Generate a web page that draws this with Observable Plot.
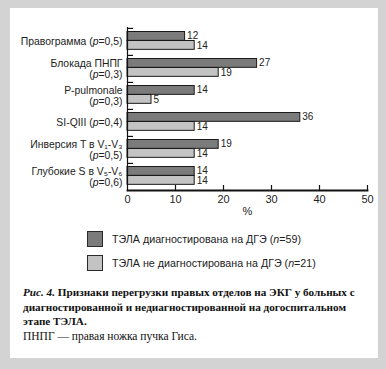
<!DOCTYPE html>
<html>
<head>
<meta charset="utf-8">
<script src="https://cdn.jsdelivr.net/npm/d3@7"></script>
<script src="https://cdn.jsdelivr.net/npm/@observablehq/plot@0.6"></script>
<style>
  html, body { margin: 0; padding: 0; }
  body { width: 386px; height: 369px; background: #d3d3d3; position: relative; overflow: hidden; font-family: "Liberation Sans", Arial, sans-serif; }
  #panel { position: absolute; left: 10px; top: 8px; width: 368px; height: 350px; background: #fff; }
  #chart { position: absolute; left: 0; top: 0; }
  .leg { position: absolute; left: 87px; font-size: 10.7px; color: #222; white-space: nowrap; }
  .sw { position: absolute; left: 0; width: 16px; height: 16px; border: 1px solid #2a2a2a; box-sizing: border-box; }
  .lt { position: absolute; left: 25px; top: 1px; line-height: 14px; }
  #caption { position: absolute; left: 23px; top: 285px; font-family: "Liberation Serif", "Times New Roman", serif; font-size: 11.2px; line-height: 14.5px; color: #111; white-space: nowrap; }
  #note { position: absolute; left: 23px; top: 330px; font-family: "Liberation Serif", "Times New Roman", serif; font-size: 11.5px; color: #111; white-space: nowrap; }
</style>
</head>
<body>
<div id="panel"></div>
<div id="chart"></div>
<div id="legend"></div>
<div id="caption"><b><i>Рис. 4.</i> Признаки перегрузки правых отделов на ЭКГ у больных с<br>диагностированной и недиагностированной на догоспитальном<br>этапе ТЭЛА.</b></div>
<div id="note">ПНПГ — правая ножка пучка Гиса.</div>
<script>
const categories = [
  "Правограмма (p=0,5)",
  "Блокада ПНПГ\n(p=0,3)",
  "P-pulmonale\n(p=0,3)",
  "SI-QIII (p=0,4)",
  "Инверсия T в V₁-V₃\n(p=0,5)",
  "Глубокие S в V₅-V₆\n(p=0,6)"
];
const seriesNames = ["ТЭЛА диагностирована на ДГЭ (n=59)", "ТЭЛА не диагностирована на ДГЭ (n=21)"];
const diagnosed = [12, 27, 14, 36, 19, 14];
const notDiagnosed = [14, 19, 5, 14, 14, 14];
const xTicks = [0, 10, 20, 30, 40, 50];
const xLabel = "%";
const colors = ["#7b7b7b", "#c3c3c3"];

const rowsD = categories.map((c, i) => ({category: c, series: seriesNames[0], value: diagnosed[i]}));
const rowsN = categories.map((c, i) => ({category: c, series: seriesNames[1], value: notDiagnosed[i]}));

const W = 386, H = 222, mT = 27, mB = 32, mL = 127, mR = 19;
const innerH = H - mT - mB;
const bw = innerH / categories.length;

const chart = Plot.plot({
  width: W, height: H,
  marginTop: mT, marginBottom: mB, marginLeft: mL, marginRight: mR,
  style: {fontFamily: "'Liberation Sans', Arial, sans-serif", fontSize: "10px", background: "transparent", color: "#222", overflow: "visible"},
  x: {domain: [0, 50]},
  y: {domain: categories, padding: 0},
  marks: [
    Plot.barX(rowsD, {x: "value", y: "category", fill: colors[0], stroke: "#1a1a1a", strokeWidth: 1, insetTop: 3.5, insetBottom: bw - 12.5}),
    Plot.barX(rowsN, {x: "value", y: "category", fill: colors[1], stroke: "#1a1a1a", strokeWidth: 1, insetTop: 12.5, insetBottom: bw - 21.5}),
    Plot.text(rowsD, {x: "value", y: "category", text: d => String(d.value), dx: 2, dy: 7.5 - bw / 2, textAnchor: "start", fontSize: 10, fill: "#222"}),
    Plot.text(rowsN, {x: "value", y: "category", text: d => String(d.value), dx: 2, dy: 17.5 - bw / 2, textAnchor: "start", fontSize: 10, fill: "#222"}),
    Plot.ruleX(xTicks.slice(1), {stroke: "#111", strokeWidth: 1.2, insetTop: innerH - 5}),
    Plot.ruleY(categories, {x1: 0, x2: 1.25, dy: -bw / 2, stroke: "#111", strokeWidth: 1.2}),
    Plot.frame({anchor: "left", stroke: "#111", strokeWidth: 1.2}),
    Plot.frame({anchor: "bottom", stroke: "#111", strokeWidth: 1.8}),
    Plot.axisY({tickSize: 0, tickPadding: 5, lineHeight: 1.0, label: null, fontSize: 10.4}),
    Plot.axisX({ticks: xTicks, tickSize: 0, tickPadding: 5, fontSize: 11, label: xLabel, labelAnchor: "center", labelArrow: "none", labelOffset: 24})
  ]
});

function italicize(root) {
  root.querySelectorAll("text, tspan").forEach(el => {
    if (el.children.length) return;
    const t = el.textContent;
    const m = t.match(/^(.*\()([pn])(=.*)$/);
    if (!m) return;
    el.textContent = "";
    el.appendChild(document.createTextNode(m[1]));
    const it = document.createElementNS("http://www.w3.org/2000/svg", "tspan");
    it.setAttribute("font-style", "italic");
    it.textContent = m[2];
    el.appendChild(it);
    el.appendChild(document.createTextNode(m[3]));
  });
}
italicize(chart);
document.getElementById("chart").appendChild(chart);

const legend = document.getElementById("legend");
seriesNames.forEach((name, i) => {
  const row = document.createElement("div");
  row.className = "leg";
  row.style.top = (231 + i * 23.5) + "px";
  const sw = document.createElement("div");
  sw.className = "sw";
  sw.style.background = colors[i];
  row.appendChild(sw);
  const lt = document.createElement("span");
  lt.className = "lt";
  const m = name.match(/^(.*\()n(=.*)$/);
  lt.innerHTML = m ? m[1] + "<i>n</i>" + m[2] : name;
  row.appendChild(lt);
  legend.appendChild(row);
});
</script>
</body>
</html>
